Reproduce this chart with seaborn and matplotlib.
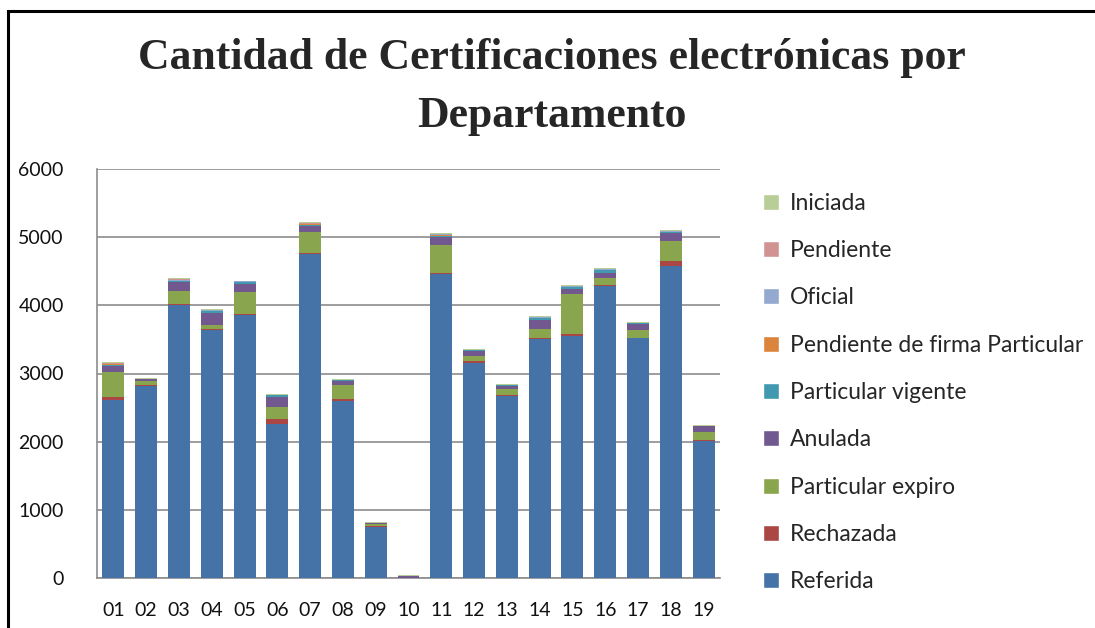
import numpy as np
import pandas as pd
import matplotlib
matplotlib.use("Agg")
import matplotlib.pyplot as plt
import seaborn as sns
from matplotlib.patches import Patch, Rectangle

departamentos = ["01", "02", "03", "04", "05", "06", "07", "08", "09", "10",
                 "11", "12", "13", "14", "15", "16", "17", "18", "19"]

# stack order, bottom to top
referida = [2615, 2810, 4005, 3645, 3860, 2255, 4755, 2600, 745, 5,
            4465, 3160, 2665, 3500, 3550, 4285, 3520, 4575, 2015]
rechazada = [35, 20, 20, 5, 20, 80, 15, 25, 25, 0,
             15, 25, 20, 20, 35, 20, 5, 80, 5]
particular_expiro = [375, 55, 185, 55, 310, 170, 310, 205, 25, 0,
                     405, 75, 85, 140, 575, 90, 110, 290, 120]
anulada = [90, 35, 130, 185, 120, 145, 90, 55, 10, 30,
           120, 70, 50, 120, 75, 85, 90, 120, 85]
particular_vigente = [15, 5, 10, 30, 35, 35, 15, 15, 5, 0,
                      10, 15, 10, 35, 40, 40, 10, 15, 5]
pendiente_firma = [5, 0, 5, 0, 0, 0, 5, 0, 0, 0,
                   15, 0, 0, 0, 0, 0, 0, 0, 0]
oficial = [10, 0, 10, 5, 5, 5, 10, 5, 0, 0,
           10, 5, 5, 10, 10, 10, 5, 10, 0]
pendiente = [5, 0, 15, 5, 0, 0, 5, 0, 0, 0,
             5, 0, 0, 5, 5, 5, 0, 5, 0]
iniciada = [15, 5, 15, 15, 5, 10, 15, 15, 10, 5,
            20, 15, 15, 15, 10, 15, 15, 15, 10]

series = [
    ("Referida", referida, "#4572A7"),
    ("Rechazada", rechazada, "#AA4643"),
    ("Particular expiro", particular_expiro, "#89A54E"),
    ("Anulada", anulada, "#71588F"),
    ("Particular vigente", particular_vigente, "#4198AF"),
    ("Pendiente de firma Particular", pendiente_firma, "#DB843D"),
    ("Oficial", oficial, "#93A9CF"),
    ("Pendiente", pendiente, "#D19392"),
    ("Iniciada", iniciada, "#B9CD96"),
]

sns.set_style("white")
plt.rcParams["font.family"] = ["Lato", "DejaVu Sans"]

fig = plt.figure(figsize=(10.95, 6.28), dpi=100)
ax = fig.add_axes([97 / 1095, 50 / 628, 623 / 1095, 409 / 628])

# cumulative totals, drawn from the tallest down so each layer shows on top
cum = np.cumsum(np.array([s[1] for s in series]), axis=0)
for i in range(len(series) - 1, -1, -1):
    df = pd.DataFrame({"dep": departamentos, "val": cum[i]})
    sns.barplot(data=df, x="dep", y="val", color=series[i][2], saturation=1,
                width=0.67, ax=ax, zorder=3, linewidth=0)

ax.set_ylim(0, 6000)
ax.set_yticks(range(0, 6001, 1000))
ax.set_xlim(-0.5, 18.5)
ax.yaxis.grid(True, color="#8c8c8c", linewidth=1.2, zorder=0)
ax.set_xlabel("")
ax.set_ylabel("")
for side in ["top", "right"]:
    ax.spines[side].set_visible(False)
ax.spines["left"].set_color("#8c8c8c")
ax.spines["bottom"].set_color("#8c8c8c")
ax.spines["left"].set_linewidth(1.2)
ax.spines["bottom"].set_linewidth(1.2)
ax.tick_params(axis="both", length=0, labelsize=14, colors="#111111")
ax.tick_params(axis="y", pad=24)
ax.tick_params(axis="x", pad=17)

fig.suptitle("Cantidad de Certificaciones electrónicas por\nDepartamento",
             x=0.504, y=0.94, fontsize=31.5, fontweight="bold",
             family=["Liberation Serif", "DejaVu Serif"], linespacing=1.6)

handles = [Patch(facecolor=c, label=n) for n, v, c in series[::-1]]
leg = fig.legend(handles=handles, loc="upper left",
                 bbox_to_anchor=(742 / 1095, 1 - 172 / 628),
                 frameon=False, fontsize=16.5, handlelength=0.7,
                 handleheight=0.7, handletextpad=0.5, labelspacing=1.15)

# outer frame of the chart (cut off on the right and bottom)
fig.patches.append(Rectangle((8 / 1095, -0.1), 1.2, 1 - 11 / 628 + 0.1,
                             transform=fig.transFigure, fill=False,
                             edgecolor="black", linewidth=2.2))

fig.savefig("out.png", dpi=100)
